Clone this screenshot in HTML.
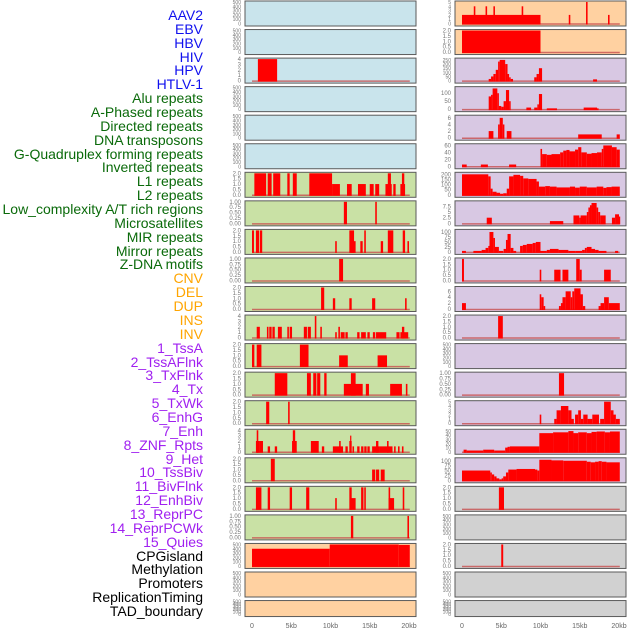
<!DOCTYPE html>
<html><head><meta charset="utf-8"><style>
html,body{margin:0;padding:0;background:#fff;}
body{width:630px;height:630px;overflow:hidden;position:relative;font-family:"Liberation Sans",sans-serif;}
#labels{position:absolute;left:0;top:0;width:203px;}
.lab{position:absolute;right:0;font-size:14px;line-height:14px;white-space:nowrap;text-align:right;}
svg{position:absolute;left:0;top:0;}
</style></head><body>
<div id="labels"></div>
<svg id="chart" width="630" height="630"></svg>
<script>
const labelNames=["AAV2","EBV","HBV","HIV","HPV","HTLV-1","Alu repeats","A-Phased repeats","Directed repeats","DNA transposons","G-Quadruplex forming repeats","Inverted repeats","L1 repeats","L2 repeats","Low_complexity A/T rich regions","Microsatellites","MIR repeats","Mirror repeats","Z-DNA motifs","CNV","DEL","DUP","INS","INV","1_TssA","2_TssAFlnk","3_TxFlnk","4_Tx","5_TxWk","6_EnhG","7_Enh","8_ZNF_Rpts","9_Het","10_TssBiv","11_BivFlnk","12_EnhBiv","13_ReprPC","14_ReprPCWk","15_Quies","CPGisland","Methylation","Promoters","ReplicationTiming","TAD_boundary"];
const labelGroups=[0,0,0,0,0,0,1,1,1,1,1,1,1,1,1,1,1,1,1,2,2,2,2,2,3,3,3,3,3,3,3,3,3,3,3,3,3,3,3,4,4,4,4,4];
const groupColors=["#1010ee","#0a6a0a","#ffa500","#a020f0","#000000"];
const xTicks=[0,5,10,15,20];
const xTickLabels=["0","5kb","10kb","15kb","20kb"];

const leftMax=[500,500,4,500,500,500,2,1,2,1,2,4,2,2,2,4,2,2,1,500,500,500];
const leftTicks=[[0,100,200,300,400,500],[0,100,200,300,400,500],[0,1,2,3,4],[0,100,200,300,400,500],[0,100,200,300,400,500],[0,100,200,300,400,500],
[0,0.5,1,1.5,2],[0,0.25,0.5,0.75,1],[0,0.5,1,1.5,2],[0,0.25,0.5,0.75,1],[0,0.5,1,1.5,2],[0,1,2,3,4],[0,0.5,1,1.5,2],[0,0.5,1,1.5,2],[0,0.5,1,1.5,2],[0,1,2,3,4],[0,0.5,1,1.5,2],[0,0.5,1,1.5,2],[0,0.25,0.5,0.75,1],
[0,100,200,300,400,500],[0,100,200,300,400,500],[0,100,200,300,400,500]];
const leftBg=["b","b","b","b","b","b","g","g","g","g","g","g","g","g","g","g","g","g","g","o","o","o"];
const leftSegments=[
[],[],
[[0.75,3.2,4]],
[],[],[],
[[0.3,1.8,2],[2,2.5,2],[2.7,3.6,2],[4.5,4.8,2],[5.2,5.7,2],[7.3,10.2,2],[10.2,11.2,1],[12.1,12.7,1],[13.5,14.5,1],[15,15.5,1],[15.7,16.2,1],[17,17.8,1],[17.3,17.7,2],[18,18.3,1],[18.9,19.5,1],[19.1,19.4,2]],
[[11.7,12.1,1],[15.7,15.9,1]],
[[0,0.25,2],[0.5,0.9,2],[1,1.3,2],[10.6,10.8,1],[12.4,13,2],[12.6,13.2,1],[13.8,14.1,1],[14.3,14.5,2],[16.4,16.7,1],[17.3,18,2],[19.2,19.5,2],[19.8,20,1]],
[[11.1,11.6,1]],
[[8.8,9.2,2],[10.3,10.6,1],[12.4,12.7,1],[15.3,15.7,1],[19.5,19.7,1]],
[[0.6,1,2],[1.9,2.1,2],[2.2,2.5,2],[2.6,2.9,2],[3.3,3.8,2],[4.5,4.7,2],[4.8,5.1,2],[6.6,7,2],[7.1,7.5,2],[8.0,8.2,4],[8.7,8.9,2],[10.6,10.8,1],[11,11.2,2],[11.3,11.8,1],[11.9,12.2,1],[13.4,13.7,1],[13.9,14.5,1],[14.7,15,1],[15.4,15.7,1],[15.8,17.1,1],[18.4,18.8,1],[18.9,19.9,1],[19.1,19.4,2]],
[[0,0.3,2],[0.6,1.2,2],[6.1,7.2,2],[11.1,12.2,1],[16,17.2,1]],
[[2.9,4.5,2],[7,7.5,2],[7.8,8.2,2],[8.3,8.7,2],[9.2,9.5,2],[11.7,14.1,1],[12.6,13.2,2],[14.5,14.9,1],[17.6,19.1,1],[19.6,19.8,1]],
[[1.8,2.2,2],[4.6,4.8,2]],
[[0.5,0.9,2],[0.6,0.8,4],[0.9,1.4,2],[2,2.3,1],[2.9,3.2,1],[5.1,5.7,2],[5.2,5.5,4],[7.5,8.5,2],[8.9,9.2,1],[10.3,11.6,1],[11.1,11.3,2],[11.9,12.2,1],[12.4,12.7,2],[12.5,12.6,3],[12.8,13,1],[13.4,13.7,1],[13.9,14.2,1],[14.3,14.6,1],[14.7,15,1],[15.3,16.3,1],[15.8,16.1,2],[16.3,17.9,1],[17.2,17.4,2],[18.1,18.3,1],[18.6,18.8,1],[19.1,19.3,1]],
[[2.4,2.9,2],[15.3,15.7,1],[15.8,16.2,1],[16.4,16.9,1]],
[[0.5,1.2,2],[2,2.3,2],[4.8,5.1,2],[6.9,7.3,2],[10.6,10.8,1],[12.4,12.7,2],[12.5,13.2,1],[13.9,14.2,2],[14.3,14.5,2],[17.4,17.6,2],[17.4,18.1,1],[19.2,19.4,2]],
[[12.6,12.9,1],[19.8,20,1]],
[[0,9.9,400],[9.9,18.7,500],[18.7,20.1,490]],
[],[]
];

const rightMax=[5,2,260,135,6.5,62,210,9.5,108,2,7.3,2,500,1,5,52,110,2,500,2,500,500];
const rightTicks=[[0,1,2,3,4,5],[0,0.5,1,1.5,2],[0,50,100,150,200,250],[0,50,100],[0,2,4,6],[0,20,40,60],[0,50,100,150,200],[0,2.5,5,7.5],[0,25,50,75,100],[0,0.5,1,1.5,2],[0,2,4,6],[0,0.5,1,1.5,2],[0,100,200,300,400,500],[0,0.25,0.5,0.75,1],[0,1,2,3,4,5],[0,10,20,30,40,50],[0,25,50,75,100],[0,0.5,1,1.5,2],[0,100,200,300,400,500],[0,0.5,1,1.5,2],[0,100,200,300,400,500],[0,100,200,300,400,500]];
const rightBg=["o","o","p","p","p","p","p","p","p","p","p","p","p","p","p","p","p","y","y","y","y","y"];
const rightSegments=[
[[0,10,2],[1.5,1.7,4],[3,3.2,4],[4,4.2,4],[7.6,7.8,4],[13.6,13.8,2],[15.8,16,5],[18.6,18.8,2]],
[[0,10,2]],
[[3.4,3.7,20],[3.7,4,50],[4,4.3,80],[4.3,4.6,130],[4.6,4.8,230],[4.8,5.5,250],[5.5,5.8,200],[5.8,6,80],[6,6.2,40],[6.2,6.5,20],[9.2,9.5,40],[9.5,9.8,80],[9.8,10.2,150],[16.7,17.2,15]],
[[3.4,3.7,80],[3.7,3.9,90],[3.9,4.5,130],[4.5,4.7,100],[4.7,5,20],[5,5.3,15],[5.3,5.6,50],[5.6,6,120],[6,6.2,50],[8.2,8.8,10],[9.2,9.6,10],[9.6,9.8,30],[9.8,10.2,95],[10.8,12.1,5],[15.5,17.2,10],[17.2,17.4,5]],
[[3.4,4,2],[4.6,4.8,4],[4.8,5.2,6],[5.2,5.4,4],[5.7,6.3,2],[14.8,17.8,1],[19.7,20.1,1]],
[[0,0.6,5],[2.4,3.3,5],[6,6.9,5],[10,10.2,50],[10.2,10.8,35],[10.8,11.4,33],[11.4,12.5,35],[12.5,12.9,40],[12.9,13.3,45],[13.3,13.7,47],[13.7,14.4,43],[14.4,14.8,48],[14.8,15.2,55],[15.2,15.9,40],[15.9,16.5,36],[16.5,17.2,38],[17.2,17.8,40],[17.8,18,50],[18,19.1,60],[19.1,19.7,55],[19.7,20.1,48]],
[[0,3.35,200],[3.35,3.65,180],[3.65,3.9,60],[3.9,4.4,30],[4.4,4.85,20],[4.85,5.25,10],[5.25,5.7,15],[5.7,6,60],[6,6.55,180],[6.55,7.4,195],[7.4,7.8,185],[7.8,8.45,160],[8.45,9.5,155],[9.5,9.8,130],[9.8,10.6,80],[10.6,11.2,85],[11.2,12.05,80],[12.05,13.75,72],[13.75,14.4,80],[14.4,15,70],[15,15.9,80],[15.9,17.15,72],[17.15,18,80],[18,18.4,68],[18.4,19.05,75],[19.05,20.1,80]],
[[3.15,3.8,2.5],[11.2,12.9,1],[14.2,14.95,3.5],[14.95,15.1,2.5],[15.1,15.9,3.5],[15.9,16.1,5],[16.1,16.3,7],[16.3,16.5,8],[16.5,17.15,9],[17.15,17.35,7],[17.35,17.6,5],[17.6,18.3,3.5],[19.1,19.5,2.5],[19.5,20,4],[20,20.1,3]],
[[0,0.5,5],[1.45,2.5,5],[2.5,3,10],[3,3.35,20],[3.35,3.5,30],[3.5,4,100],[4,4.2,70],[4.2,4.7,25],[4.7,5.25,5],[5.3,5.6,15],[5.6,5.8,60],[5.8,6.2,90],[6.2,6.55,20],[6.55,6.9,5],[7.4,7.75,30],[7.75,8.25,35],[8.25,9,40],[9,9.4,45],[9.4,10,50],[10,10.8,5],[10.8,11.2,10],[11.2,12.3,15],[12.3,13.55,10],[13.55,14.5,5],[14.5,15.3,5],[15.3,15.65,10],[15.65,15.9,20],[15.9,16.5,25],[16.5,16.95,15],[16.95,17.4,10],[17.4,18.4,5],[19.5,19.9,5]],
[[0,0.25,2],[9.9,10.1,1],[11.75,12.55,1],[12.8,13.55,1],[14.55,15,2],[15,15.25,1],[18.1,18.95,1]],
[[0,0.5,2],[9.9,10.1,5],[10.1,10.4,4],[10.4,10.6,1],[12.35,12.6,1],[12.6,12.8,2],[12.8,13.2,4],[13.2,13.85,6],[13.85,14.05,4],[14.05,14.3,6],[14.3,15.1,7],[15.1,15.4,5],[15.4,15.7,1],[17.4,17.65,1],[17.65,18.1,2],[18.1,18.7,4],[18.7,20.1,2]],
[[4.6,5.2,2]],
[],
[[12.35,13,1]],
[[9.9,10.1,2],[11.75,12.05,1],[12.05,12.6,3],[12.6,13.55,4],[13.55,13.95,3],[13.95,14.25,1],[14.4,14.8,2],[14.8,15.15,3],[15.15,15.45,1],[15.45,16,2],[16,16.6,1],[16.6,17.45,2],[17.6,18.1,1],[18.1,18.95,5],[18.95,19.3,3],[19.3,19.6,2],[19.6,20.1,1]],
[[0.2,0.6,5],[0.6,2.7,3],[2.7,4.1,5],[4.1,5.5,3],[5.5,5.8,10],[5.8,6.1,12],[6.1,9.85,13],[9.85,11.6,45],[11.6,13.55,47],[13.55,14.2,50],[14.2,14.8,45],[14.8,15.9,47],[15.9,16.5,45],[16.5,17.15,48],[17.15,18.2,49],[18.2,18.85,47],[18.85,20.1,49]],
[[0,3.6,50],[3.6,3.8,40],[3.8,4.1,30],[4.1,4.4,20],[4.4,4.75,10],[4.75,5.05,5],[5.05,5.25,10],[5.25,5.6,20],[5.6,5.9,40],[5.9,6.95,55],[6.95,9.3,58],[9.3,9.6,55],[9.6,9.85,50],[9.85,11.4,105],[11.4,12.9,102],[12.9,15.9,100],[15.9,16.4,95],[16.4,16.95,92],[16.95,17.4,95],[17.4,17.8,98],[17.8,18.4,95],[18.4,20.1,92]],
[[4.7,5.35,2]],
[],
[[5,5.25,2]],
[],[]
];

const bgColor={b:"#c9e4ec",g:"#c9e1a5",o:"#ffd1a1",p:"#d8c8e3",y:"#d1d1d1"};
const NS="http://www.w3.org/2000/svg";
const svg=document.getElementById("chart");
const rowTop=i=>1+i*28.55;
const rowH=i=>i===21?16:25;
const colLeft=[245,455];
const colW=171;
const x0=[252,462];
const pxPerKb=7.85;
function xScale(c,kb){return x0[c]+kb*pxPerKb;}
function yScale(i,v,max){const t=rowTop(i),h=rowH(i);return t+h-2.5-(v/max)*(h-3.5);}
function mk(tag,attrs){const e=document.createElementNS(NS,tag);for(const k in attrs)e.setAttribute(k,attrs[k]);return e;}
function fmt(t,ticks){const step=ticks[1]-ticks[0];if(step===0.25)return t.toFixed(2);if(step===0.5||step===2.5&&false)return t.toFixed(1);if(step===2.5)return String(t);return String(t);}

function drawPanel(c,i,max,ticks,bg,segs){
  const g=mk("g",{});
  
  
  const t=rowTop(i),h=rowH(i);
  const r=mk("rect",{x:colLeft[c],y:t,width:colW,height:h,fill:bgColor[bg],stroke:"#5a5a5a","stroke-width":1});
  
  
  g.appendChild(r);
  const fs=ticks.length>=6?5:6;
  ticks.forEach(tv=>{
    const y=yScale(i,tv,max);
    const tx=mk("text",{x:colLeft[c]-4,y:y+2,"font-size":fs,fill:"#777","text-anchor":"end","font-family":"Liberation Sans, sans-serif"});
    tx.textContent=fmt(tv,ticks);
    
    
    g.appendChild(tx);
  });
  if(segs.length){
    const bl=mk("line",{x1:xScale(c,0),x2:xScale(c,20.1),y1:yScale(i,0,max)+0.5,y2:yScale(i,0,max)+0.5,stroke:"#c85050","stroke-width":1.5,opacity:0.8});
    
    
    g.appendChild(bl);
  }
  segs.forEach(s=>{
    const xa=xScale(c,s[0]),xb=xScale(c,s[1]);
    const ya=yScale(i,s[2],max),yb=yScale(i,0,max)+1;
    const b=mk("rect",{x:xa,y:ya,width:Math.max(1.2,xb-xa),height:yb-ya,fill:"#ff0000"});
    
    
    g.appendChild(b);
  });
  svg.appendChild(g);
}
for(let i=0;i<22;i++){
  drawPanel(0,i,leftMax[i],leftTicks[i],leftBg[i],leftSegments[i]);
  drawPanel(1,i,rightMax[i],rightTicks[i],rightBg[i],rightSegments[i]);
}
for(let c=0;c<2;c++){
  xTicks.forEach((kb,k)=>{
    const tx=mk("text",{x:xScale(c,kb),y:628,"font-size":7,fill:"#666","text-anchor":"middle","font-family":"Liberation Sans, sans-serif"});
    tx.textContent=xTickLabels[k];
    
    
    svg.appendChild(tx);
  });
}
const lab=document.getElementById("labels");
labelNames.forEach((n,k)=>{
  const d=document.createElement("div");
  d.className="lab";
  d.style.top=(8+k*13.86)+"px";
  d.style.color=groupColors[labelGroups[k]];
  d.textContent=n;
  
  
  lab.appendChild(d);
});
</script>
</body></html>
